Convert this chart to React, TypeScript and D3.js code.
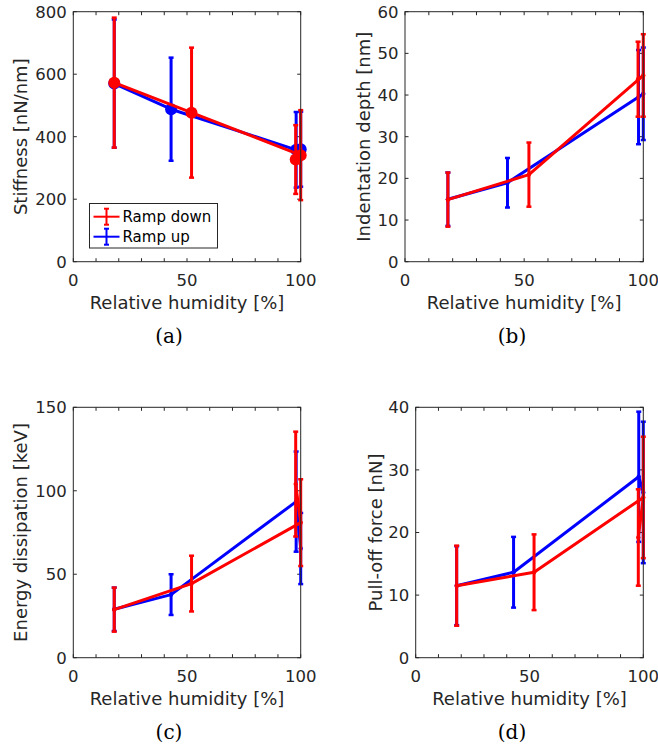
import React from "react";
import * as d3 from "d3";

// Relative humidity of each measurement point (line order as plotted)
const rampUpRH = [18, 43, 98, 100];
const rampDownRH = [18, 52, 100, 97.8];

// (a) Stiffness [nN/nm]
const stiffnessUp = [570, 488, 358, 360];
const stiffnessUpErr = [205, 165, 121, 120];
const stiffnessDown = [573, 477, 341, 327];
const stiffnessDownErr = [208, 208, 144, 110];

// (b) Indentation depth [nm]
const depthUp = [15.0, 18.95, 39.5, 40.3];
const depthUpErr = [6.4, 5.95, 11.3, 11.1];
const depthDown = [14.9, 20.9, 44.7, 43.8];
const depthDownErr = [6.5, 7.7, 9.9, 9.0];

// (c) Energy dissipation [keV]
const energyUp = [29, 37.8, 93.5, 65.4];
const energyUpErr = [13, 12.2, 30, 21.3];
const energyDown = [28.8, 44.4, 80.9, 104];
const energyDownErr = [13.2, 16.7, 26, 31.4];

// (d) Pull-off force [nN]
const pullUp = [11.5, 13.65, 28.9, 26.4];
const pullUpErr = [6.3, 5.65, 10.4, 11.3];
const pullDown = [11.5, 13.65, 25.6, 19.2];
const pullDownErr = [6.4, 6.05, 9.7, 7.7];

const xTickLabels = [0, 50, 100];
const xMinorTicks = [0, 10, 20, 30, 40, 50, 60, 70, 80, 90, 100];
const stiffnessTicks = [0, 200, 400, 600, 800];
const depthTicks = [0, 10, 20, 30, 40, 50, 60];
const energyTicks = [0, 50, 100, 150];
const pullTicks = [0, 10, 20, 30, 40];

const yLabels = [
  "Stiffness [nN/nm]",
  "Indentation depth [nm]",
  "Energy dissipation [keV]",
  "Pull-off force [nN]",
];
const captions = ["(a)", "(b)", "(c)", "(d)"];
const legendLabels = ["Ramp down", "Ramp up"];

const RED = "#ff0000";
const BLUE = "#0000ff";
const AX = "#262626";
const SANS = "'DejaVu Sans', 'Liberation Sans', sans-serif";
const SERIF = "'DejaVu Serif', 'Liberation Serif', serif";

type SeriesProps = {
  xs: number[];
  ys: number[];
  es: number[];
  color: string;
  x: d3.ScaleLinear<number, number>;
  y: d3.ScaleLinear<number, number>;
  markerR: number;
};

function Series({ xs, ys, es, color, x, y, markerR }: SeriesProps) {
  const line = d3
    .line<number>()
    .x((_, i) => x(xs[i]))
    .y((d) => y(d));
  return (
    <g>
      {ys.map((v, i) => {
        const cx = x(xs[i]);
        const y1 = y(v + es[i]);
        const y2 = y(v - es[i]);
        return (
          <g key={i}>
            <line x1={cx} x2={cx} y1={y1} y2={y2} stroke={color} strokeWidth={3} />
            <line x1={cx - 2.5} x2={cx + 2.5} y1={y1} y2={y1} stroke={color} strokeWidth={2.5} />
            <line x1={cx - 2.5} x2={cx + 2.5} y1={y2} y2={y2} stroke={color} strokeWidth={2.5} />
          </g>
        );
      })}
      <path d={line(ys) || ""} stroke={color} strokeWidth={3} fill="none" strokeLinejoin="round" />
      {ys.map((v, i) => (
        <circle key={"m" + i} cx={x(xs[i])} cy={y(v)} r={markerR} fill={color} />
      ))}
    </g>
  );
}

type PanelProps = {
  left: number;
  right: number;
  top: number;
  bottom: number;
  yMax: number;
  yTicks: number[];
  yLabel: string;
  yLabelX: number;
  caption: string;
  captionX: number;
  up: number[];
  upErr: number[];
  down: number[];
  downErr: number[];
  markerR: number;
  legend?: boolean;
};

function Panel(p: PanelProps) {
  const x = d3.scaleLinear().domain([0, 100]).range([p.left, p.right]);
  const y = d3.scaleLinear().domain([0, p.yMax]).range([p.bottom, p.top]);
  const tl = 3.5;
  const yMid = (p.top + p.bottom) / 2;
  return (
    <g>
      <rect x={p.left} y={p.top} width={p.right - p.left} height={p.bottom - p.top} fill="white" />
      {xMinorTicks.map((t) => (
        <g key={"xt" + t}>
          <line x1={x(t)} x2={x(t)} y1={p.bottom} y2={p.bottom - tl} stroke={AX} strokeWidth={1} />
          <line x1={x(t)} x2={x(t)} y1={p.top} y2={p.top + tl} stroke={AX} strokeWidth={1} />
        </g>
      ))}
      {p.yTicks.map((t) => (
        <g key={"yt" + t}>
          <line x1={p.left} x2={p.left + tl} y1={y(t)} y2={y(t)} stroke={AX} strokeWidth={1} />
          <line x1={p.right} x2={p.right - tl} y1={y(t)} y2={y(t)} stroke={AX} strokeWidth={1} />
          <text
            x={p.left - 6.5}
            y={y(t)}
            dy="0.36em"
            textAnchor="end"
            fontFamily={SANS}
            fontSize={16.5}
            fill={AX}
          >
            {t}
          </text>
        </g>
      ))}
      {xTickLabels.map((t) => (
        <text
          key={"xl" + t}
          x={x(t)}
          y={p.bottom + 24}
          textAnchor="middle"
          fontFamily={SANS}
          fontSize={16.5}
          fill={AX}
        >
          {t}
        </text>
      ))}
      <Series xs={rampUpRH} ys={p.up} es={p.upErr} color={BLUE} x={x} y={y} markerR={p.markerR} />
      <Series xs={rampDownRH} ys={p.down} es={p.downErr} color={RED} x={x} y={y} markerR={p.markerR} />
      <rect
        x={p.left}
        y={p.top}
        width={p.right - p.left}
        height={p.bottom - p.top}
        fill="none"
        stroke={AX}
        strokeWidth={1}
      />
      <text
        x={(p.left + p.right) / 2}
        y={p.bottom + 47}
        textAnchor="middle"
        fontFamily={SANS}
        fontSize={18}
        fill={AX}
      >
        Relative humidity [%]
      </text>
      <text
        transform={`translate(${p.yLabelX},${yMid}) rotate(-90)`}
        textAnchor="middle"
        fontFamily={SANS}
        fontSize={18}
        fill={AX}
      >
        {p.yLabel}
      </text>
      <text
        x={p.captionX}
        y={p.bottom + 81}
        textAnchor="middle"
        fontFamily={SERIF}
        fontSize={20}
        fill="#000"
      >
        {p.caption}
      </text>
      {p.legend && (
        <g>
          <rect x={89.5} y={203.5} width={128} height={44.5} fill="white" stroke={AX} strokeWidth={1} />
          {[RED, BLUE].map((c, i) => {
            const cy = 216.7 + i * 20;
            return (
              <g key={"lg" + i}>
                <line x1={93.5} x2={119.5} y1={cy} y2={cy} stroke={c} strokeWidth={2} />
                <line x1={106.5} x2={106.5} y1={cy - 8} y2={cy + 8} stroke={c} strokeWidth={2} />
                <line x1={104} x2={109} y1={cy - 8} y2={cy - 8} stroke={c} strokeWidth={2} />
                <line x1={104} x2={109} y1={cy + 8} y2={cy + 8} stroke={c} strokeWidth={2} />
                <text x={122.5} y={cy} dy="0.36em" fontFamily={SANS} fontSize={15} fill="#000">
                  {legendLabels[i]}
                </text>
              </g>
            );
          })}
        </g>
      )}
    </g>
  );
}

export default function App() {
  return (
    <svg
      width={658}
      height={752}
      viewBox="0 0 658 752"
      style={{ position: "absolute", left: 0, top: 0, background: "white" }}
    >
      <rect width={658} height={752} fill="white" />
      <Panel
        left={73.3}
        right={300.7}
        top={11.7}
        bottom={261.7}
        yMax={800}
        yTicks={stiffnessTicks}
        yLabel={yLabels[0]}
        yLabelX={27}
        caption={captions[0]}
        captionX={169}
        up={stiffnessUp}
        upErr={stiffnessUpErr}
        down={stiffnessDown}
        downErr={stiffnessDownErr}
        markerR={6}
        legend
      />
      <Panel
        left={405}
        right={643.3}
        top={11.7}
        bottom={261.7}
        yMax={60}
        yTicks={depthTicks}
        yLabel={yLabels[1]}
        yLabelX={370}
        caption={captions[1]}
        captionX={512}
        up={depthUp}
        upErr={depthUpErr}
        down={depthDown}
        downErr={depthDownErr}
        markerR={2.2}
      />
      <Panel
        left={73.3}
        right={300.7}
        top={407.3}
        bottom={657.7}
        yMax={150}
        yTicks={energyTicks}
        yLabel={yLabels[2]}
        yLabelX={27}
        caption={captions[2]}
        captionX={169}
        up={energyUp}
        upErr={energyUpErr}
        down={energyDown}
        downErr={energyDownErr}
        markerR={2.2}
      />
      <Panel
        left={415.7}
        right={643.3}
        top={407.3}
        bottom={657.7}
        yMax={40}
        yTicks={pullTicks}
        yLabel={yLabels[3]}
        yLabelX={382}
        caption={captions[3]}
        captionX={512}
        up={pullUp}
        upErr={pullUpErr}
        down={pullDown}
        downErr={pullDownErr}
        markerR={2.2}
      />
    </svg>
  );
}
